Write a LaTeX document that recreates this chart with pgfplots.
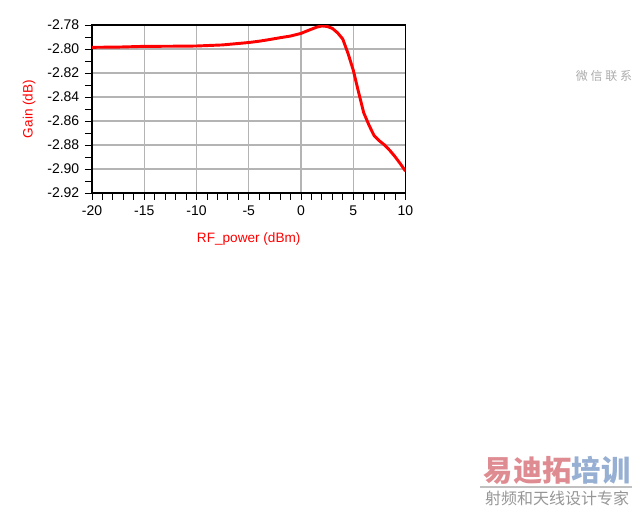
\documentclass[border=0pt]{standalone}
\usepackage{pgfplots}
\pgfplotsset{compat=1.18}
\usepackage{fontspec}
\setmainfont{Liberation Sans}
\newfontfamily\cjk{Noto Sans CJK SC}
\definecolor{wmred}{RGB}{222,140,145}
\definecolor{wmblue}{RGB}{150,175,210}
\definecolor{wmgray}{RGB}{150,150,150}
\definecolor{gridgray}{RGB}{180,180,180}
\begin{document}
\begin{tikzpicture}
\path[use as bounding box] (0pt,0pt) rectangle (480pt,384pt);
\begin{axis}[
  at={(69pt,239.25pt)}, anchor=south west,
  scale only axis, width=235.1pt, height=126pt,
  xmin=-20, xmax=10, ymin=-2.92, ymax=-2.78,
  xtick={-20,-15,...,10},
  ytick={-2.92,-2.90,-2.88,-2.86,-2.84,-2.82,-2.80,-2.78},
  minor x tick num=4, minor y tick num=1,
  tick align=outside, major tick length=5pt, minor tick length=5pt,
  tick style={black, line width=0.6pt},
  xtick pos=bottom, ytick pos=left,
  grid=major, major grid style={gridgray, line width=0.8pt},
  axis line style={black, line width=0.8pt},
  /pgf/number format/assume math mode=true,
  ticklabel style={font=\fontsize{10.5}{12}\selectfont},
  yticklabel style={/pgf/number format/fixed, /pgf/number format/precision=2, /pgf/number format/fixed zerofill, xshift=-1pt},
  xticklabel style={yshift=-1pt},
  xlabel={RF\_power (dBm)}, ylabel={Gain (dB)},
  label style={font=\fontsize{10.2}{12}\selectfont, text=red},
  xlabel style={at={(axis description cs:0.5,-0.274)}, anchor=center},
  ylabel style={at={(axis description cs:-0.201,0.5)}, anchor=center, rotate=0},
]
\addplot[red, line width=2.2pt, line join=round] coordinates {
(-20,-2.7986) (-17.5,-2.7984) (-15,-2.7978) (-12.5,-2.7977) (-10,-2.7975)
(-7.5,-2.7966) (-5,-2.7946) (-4,-2.7935) (-3,-2.7921) (-2,-2.7906)
(-1,-2.7892) (0,-2.7870) (0.5,-2.7852) (1,-2.7835) (1.5,-2.7818)
(2,-2.7808) (2.5,-2.7812) (3,-2.7828) (3.5,-2.7865) (4,-2.7917)
(4.5,-2.8036) (5,-2.8175) (5.5,-2.8356) (6,-2.8530) (6.5,-2.8633)
(7,-2.8722) (7.5,-2.8765) (8,-2.8800) (8.5,-2.8845) (9,-2.8897)
(9.5,-2.8955) (10,-2.9017)
};
\end{axis}
\node[font=\cjk\bfseries\fontsize{22}{24}\selectfont, inner sep=0pt] at (417.75pt,31.5pt) {\textcolor{wmred}{易迪拓}\textcolor{wmblue}{培训}};
\draw[wmgray!60, line width=1.2pt] (360pt,18.75pt) -- (474pt,18.75pt);
\node[font=\cjk\fontsize{12}{14}\selectfont, text=wmgray, inner sep=0pt] at (417.75pt,10.5pt) {射频和天线设计专家};
\node[font=\cjk\fontsize{9}{10}\selectfont, text=wmgray!80, inner sep=0pt] at (453pt,327pt) {微\ 信\ 联\ 系};
\end{tikzpicture}
\end{document}
